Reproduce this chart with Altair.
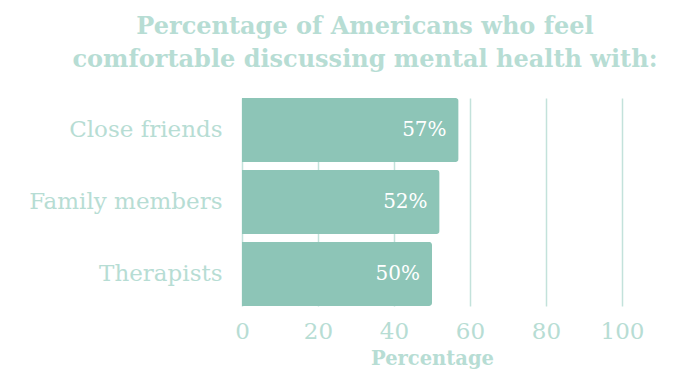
import altair as alt
import pandas as pd

categories = ["Close friends", "Family members", "Therapists"]
values = [57, 52, 50]
labels = ["57%", "52%", "50%"]
x_ticks = [0, 20, 40, 60, 80, 100]

df = pd.DataFrame({"who": categories, "pct": values, "label": labels})

LIGHT = "#b7ddd4"
BAR = "#8dc5b7"

base = alt.Chart(df).encode(
    y=alt.Y("who:N", sort=categories, title=None,
            scale=alt.Scale(paddingInner=0.11, paddingOuter=0),
            axis=alt.Axis(labelFont="DejaVu Serif", labelFontSize=23, labelColor=LIGHT,
                          ticks=False, domain=False, grid=False, labelPadding=20,
                          labelLimit=400)),
    x=alt.X("pct:Q", title="Percentage",
            scale=alt.Scale(domain=[0, 100]),
            axis=alt.Axis(values=x_ticks, labelFont="DejaVu Serif", labelFontSize=23,
                          labelColor=LIGHT, ticks=False, domain=False, labelPadding=14,
                          labelFlush=False,
                          titleFont="DejaVu Serif", titleFontSize=19.5, titleFontWeight="bold",
                          titleColor=LIGHT, titlePadding=6,
                          grid=True, gridColor="#c3e2db", gridWidth=1.5)),
)

bars = base.mark_bar(color=BAR, cornerRadiusEnd=3)

text = base.mark_text(align="right", dx=-12, color="white", font="DejaVu Serif",
                      fontSize=20).encode(text="label:N")

chart = (bars + text).properties(
    width=380, height=208,
    background="white",
    autosize=alt.AutoSizeParams(type="none"),
    title=alt.TitleParams(
        ["Percentage of Americans who feel", "comfortable discussing mental health with:"],
        font="DejaVu Serif", fontSize=24, fontWeight="bold", color=LIGHT,
        anchor="middle", frame="group", dx=-67, offset=26, lineHeight=33),
    padding={"left": 234, "top": 90, "right": 52, "bottom": 68},
).configure_view(stroke="transparent", strokeWidth=0).configure_axis(
    domain=False, ticks=False
).configure_axisY(grid=False)

chart.save("out.html", embed_options={"renderer": "svg", "actions": False})
